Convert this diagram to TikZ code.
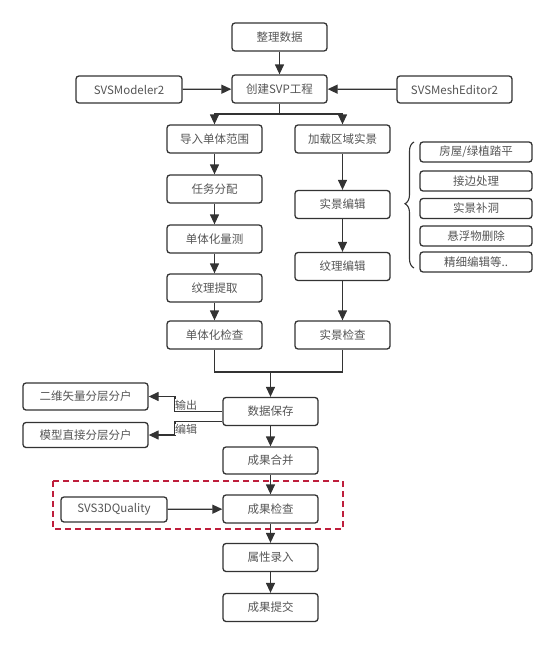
\documentclass[tikz,border=0pt]{standalone}
\usepackage{fontspec}
\setmainfont{Noto Sans CJK SC}
\usetikzlibrary{arrows.meta,decorations.pathreplacing}
\definecolor{lc}{RGB}{51,51,51}
\definecolor{tc}{RGB}{85,85,85}
\definecolor{dr}{RGB}{190,30,60}
\tikzset{
  box/.style={draw=lc, line width=1.3pt, rounded corners=3pt, minimum width=95pt, minimum height=28pt, inner sep=0pt, text=tc, font=\fontsize{11.5pt}{13pt}\selectfont},
  sbox/.style={box, minimum width=112pt, minimum height=20pt},
  conn/.style={draw=lc, line width=1.3pt},
  arr/.style={conn, -{Triangle[length=10pt,width=9pt]}},
  lbl/.style={fill=white, inner sep=0.5pt, text=tc, font=\fontsize{11pt}{12pt}\selectfont}
}
\begin{document}
\begin{tikzpicture}[x=1pt,y=-1pt]
\useasboundingbox (0,0) rectangle (554,645);
% dashed region
\draw[dr, line width=1.3pt, dash pattern=on 6pt off 4pt] (53,481) rectangle (343,529);

\node[box] (zl) at (279.5,37) {整理数据};
\node[box] (cj) at (279.5,89) {创建SVP工程};
\node[box, minimum width=106pt, minimum height=27pt] (mod) at (129,89.5) {SVSModeler2};
\node[box, minimum width=115pt, minimum height=27pt] (mesh) at (454.5,89.5) {SVSMeshEditor2};

\node[box] (dr1) at (214.5,139) {导入单体范围};
\node[box] (rw) at (214.5,189) {任务分配};
\node[box] (cl) at (214.5,239) {单体化量测};
\node[box] (tq) at (214.5,288) {纹理提取};
\node[box] (jc1) at (214.5,335) {单体化检查};

\node[box] (jz) at (342.5,139) {加载区域实景};
\node[box] (bj) at (342.5,204.5) {实景编辑};
\node[box] (wl) at (342.5,266.5) {纹理编辑};
\node[box] (jc2) at (342.5,335) {实景检查};

\node[sbox] (s1) at (476,152) {房屋/绿植踏平};
\node[sbox] (s2) at (476,181) {接边处理};
\node[sbox] (s3) at (476,208.5) {实景补洞};
\node[sbox] (s4) at (476,236) {悬浮物删除};
\node[sbox] (s5) at (476,262) {精细编辑等..};

\node[box] (bc) at (270.5,411.5) {数据保存};
\node[box, minimum width=125pt, minimum height=27pt] (ew) at (85.5,396.5) {二维矢量分层分户};
\node[box, minimum width=125pt, minimum height=25pt] (mx) at (85.5,435) {模型直接分层分户};

\node[box, minimum height=27pt] (hb) at (270.5,460.5) {成果合并};
\node[box] (jc3) at (270.5,509) {成果检查};
\node[box, minimum width=106pt, minimum height=25pt] (q) at (114,509.5) {SVS3DQuality};
\node[box] (sx) at (270.5,557.5) {属性录入};
\node[box] (tj) at (270.5,607.5) {成果提交};

% connectors
\draw[arr] (zl) -- (cj);
\draw[arr] (mod) -- (cj);
\draw[arr] (mesh) -- (cj);
\coordinate (sp) at (279.5,114);
\draw[conn] (cj.south) -- (sp);
\draw[arr] (sp) -| (dr1.north);
\draw[arr] (sp) -| (jz.north);

\draw[arr] (dr1) -- (rw);
\draw[arr] (rw) -- (cl);
\draw[arr] (cl) -- (tq);
\draw[arr] (tq) -- (jc1);

\draw[arr] (jz) -- (bj);
\draw[arr] (bj) -- (wl);
\draw[arr] (wl) -- (jc2);

\coordinate (mg) at (270.5,372);
\draw[conn] (jc1.south) |- (mg);
\draw[conn] (jc2.south) |- (mg);
\draw[arr] (mg) -- (bc.north);

\coordinate (o1) at (175,411.5);
\coordinate (o2) at (175,421.5);
\draw[arr] (bc.west |- o1) -- (o1) |- (ew.east);
\draw[arr] (bc.west |- o2) -- (o2) |- (mx.east);
\node[lbl] (l1) at (186,405) {输出};
\node[lbl] (l2) at (186,429.5) {编辑};

\draw[arr] (bc) -- (hb);
\draw[arr] (hb) -- (jc3);
\draw[arr] (q) -- (jc3);
\draw[arr] (jc3) -- (sx);
\draw[arr] (sx) -- (tj);

% brace
\draw[conn, line width=1.1pt, decoration={brace, amplitude=9pt, aspect=0.51}, decorate] (414,268) -- (414,142);
\end{tikzpicture}
\end{document}
